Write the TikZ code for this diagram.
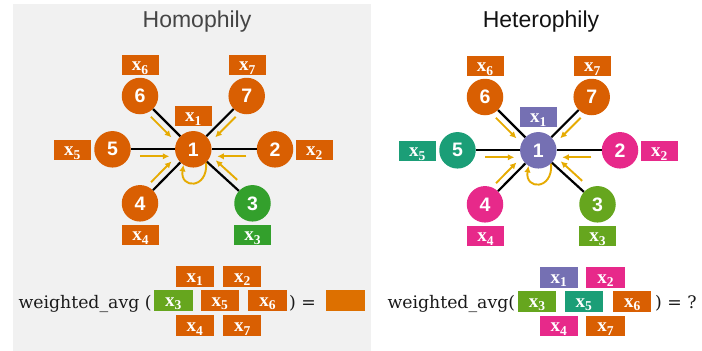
\documentclass[tikz,border=0pt]{standalone}
\usepackage{fontspec}
\newfontfamily\headfont{Liberation Sans}
\newfontfamily\formfont{DejaVu Serif}
\newfontfamily\labfont{Liberation Serif}
\usetikzlibrary{calc,arrows.meta}

\definecolor{panelgray}{HTML}{F1F1F1}
\definecolor{dkorange}{HTML}{D95F02}
\definecolor{resorange}{HTML}{DD7000}
\definecolor{leafgreen}{HTML}{33A02C}
\definecolor{olive}{HTML}{66A61E}
\definecolor{teal2}{HTML}{1B9E77}
\definecolor{purple2}{HTML}{7570B3}
\definecolor{pink2}{HTML}{E7298A}
\definecolor{flowyellow}{HTML}{E6AB02}
\definecolor{inkdark}{HTML}{1A1A1A}

% feature-vector label: bold x with a lowered index
\newcommand\xlab[1]{\labfont\bfseries x\raisebox{-3.6pt}{\fontsize{13.5}{14}\selectfont #1}}

\begin{document}
\begin{tikzpicture}[x=1pt,y=-1pt,
  vertex/.style={circle, minimum size=36.5pt, inner sep=0pt, text=white,
    font=\headfont\bfseries\fontsize{19.5}{21}\selectfont},
  featbox/.style={rectangle, minimum width=37pt, inner sep=0pt,
    text height=15.7pt, text depth=4.3pt, text=white,
    font=\fontsize{19}{21}\selectfont},
  sumbox/.style={featbox, minimum width=38.5pt, text height=16.2pt, text depth=4.5pt},
  edge/.style={draw=black, line width=2.2pt},
  flow/.style={draw=flowyellow, line width=1.9pt, -{Latex[length=6.5pt,width=6.5pt]}},
  title/.style={font=\headfont\fontsize{23}{26}\selectfont},
  formula/.style={text=inkdark, font=\formfont\fontsize{17.3}{20}\selectfont, inner sep=0pt}]

\useasboundingbox (0,0) rectangle (702,351);
\fill[panelgray] (13,4) rectangle (371,351);

\node[title, text=black!73] (homTitle) at (197,22) {Homophily};
\node[title, text=black!93] (hetTitle) at (541,22) {Heterophily};

% ---------- two star graphs around node 1 ----------
\foreach \pre/\dx/\dy/\ca/\cb/\cc/\cd/\ce/\cf/\cg/\bc in
  {a/0/0/dkorange/dkorange/leafgreen/dkorange/dkorange/dkorange/dkorange/leafgreen,
   b/345/1/purple2/pink2/olive/pink2/teal2/dkorange/dkorange/olive}{
  \begin{scope}[shift={(\dx,\dy)}]
    \node[vertex, fill=\ca] (\pre n1) at (193.3,149.3) {1};
    \node[vertex, fill=\cb] (\pre n2) at (275,149.3) {2};
    \node[vertex, fill=\cc] (\pre n3) at (252.5,203.3) {3};
    \node[vertex, fill=\cd] (\pre n4) at (140,203.3) {4};
    \node[vertex, fill=\ce] (\pre n5) at (112.5,149.3) {5};
    \node[vertex, fill=\cf] (\pre n6) at (140,96) {6};
    \node[vertex, fill=\cg] (\pre n7) at (246.7,96) {7};

    \node[featbox, fill=\ca] (\pre b1) at (193.3,116) {\xlab{1}};
    \node[featbox, fill=\cb] (\pre b2) at (314.3,150) {\xlab{2}};
    \node[featbox, fill=\bc] (\pre b3) at (252.5,235) {\xlab{3}};
    \node[featbox, fill=\cd] (\pre b4) at (140.5,235) {\xlab{4}};
    \node[featbox, fill=\ce] (\pre b5) at (72.3,150) {\xlab{5}};
    \node[featbox, fill=\cf] (\pre b6) at (140,64.7) {\xlab{6}};
    \node[featbox, fill=\cg] (\pre b7) at (247.3,65) {\xlab{7}};
  \end{scope}

  \foreach \k in {2,...,7}
    \draw[edge] (\pre n1) -- (\pre n\k);

  % messages flowing into node 1, beside each edge
  \foreach \k/\side in {2/-90,3/90,4/-90,5/90,6/90,7/-90}
    \draw[flow] ($(\pre n1)!53pt!(\pre n\k)!7pt!\side:(\pre n\k)$)
             -- ($(\pre n1)!24pt!(\pre n\k)!7pt!\side:(\pre n\k)$);

  % self loop
  \draw[flow] (\pre n1.-46) .. controls +(2,27) and +(-4,24) .. (\pre n1.-122);
}

% ---------- aggregation, homophily ----------
\node[formula, anchor=base west] (fa) at (18.3,308.3) {weighted\_avg (};
\node[sumbox, fill=dkorange] (fa1) at (194.8,276.3) {\xlab{1}};
\node[sumbox, fill=dkorange] (fa2) at (242.2,276.3) {\xlab{2}};
\node[sumbox, fill=olive]    (fa3) at (173.3,300.3) {\xlab{3}};
\node[sumbox, fill=dkorange] (fa5) at (219.8,300.3) {\xlab{5}};
\node[sumbox, fill=dkorange] (fa6) at (267.5,300.3) {\xlab{6}};
\node[sumbox, fill=dkorange] (fa4) at (194.8,325.7) {\xlab{4}};
\node[sumbox, fill=dkorange] (fa7) at (242.2,325.7) {\xlab{7}};
\node[formula, anchor=base west] (fae) at (289,308.3) {) =};
\node[sumbox, fill=resorange, minimum width=39pt] (far) at (345.5,300.3) {};

% ---------- aggregation, heterophily ----------
\node[formula, anchor=base west] (fb) at (387.3,308.3) {weighted\_avg(};
\node[sumbox, fill=purple2]  (fb1) at (558.8,277.3) {\xlab{1}};
\node[sumbox, fill=pink2]    (fb2) at (605.5,277.3) {\xlab{2}};
\node[sumbox, fill=olive]    (fb3) at (537,301.3) {\xlab{3}};
\node[sumbox, fill=teal2]    (fb5) at (583.8,301.3) {\xlab{5}};
\node[sumbox, fill=dkorange] (fb6) at (632.2,301.3) {\xlab{6}};
\node[sumbox, fill=pink2]    (fb4) at (558.8,326) {\xlab{4}};
\node[sumbox, fill=dkorange] (fb7) at (605.5,326) {\xlab{7}};
\node[formula, anchor=base west] (fbe) at (655,308.3) {) = ?};

\end{tikzpicture}
\end{document}
